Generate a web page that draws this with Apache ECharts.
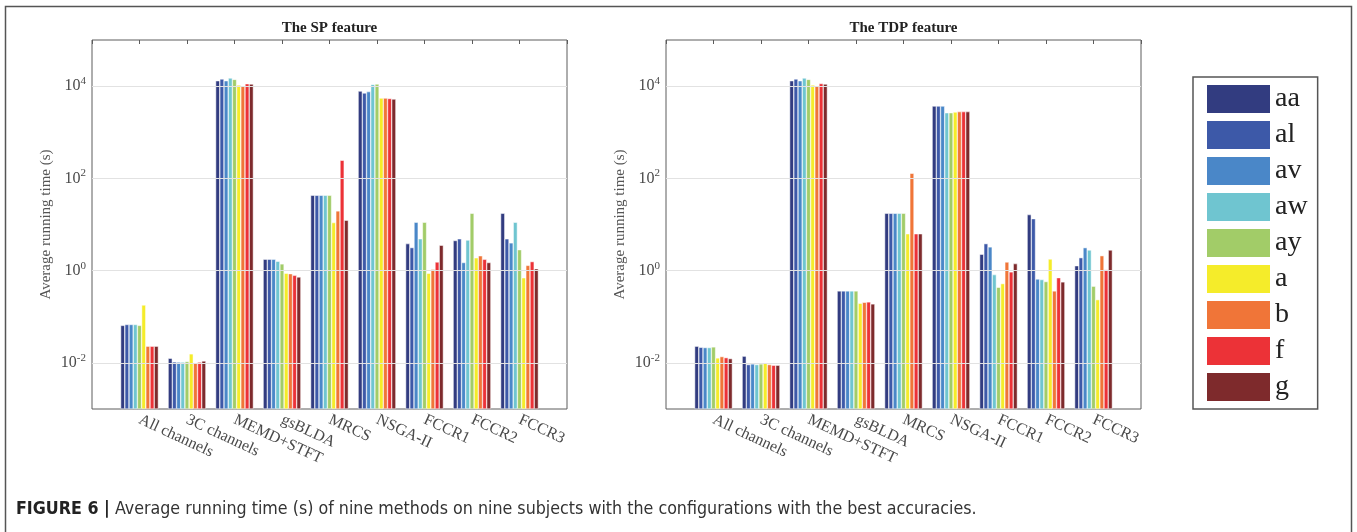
<!DOCTYPE html>
<html>
<head>
<meta charset="utf-8">
<script src="https://cdn.jsdelivr.net/npm/echarts@6/dist/echarts.min.js"></script>
<style>
  html, body { margin: 0; padding: 0; background: #fff; }
  #chart { width: 1357px; height: 532px; }
</style>
</head>
<body>
<div id="chart"></div>
<script>
// Methods compared on the x axis (blank slots pad the axis to 0..10)
const methods = ['All channels', '3C channels', 'MEMD+STFT', 'gsBLDA', 'MRCS', 'NSGA-II', 'FCCR1', 'FCCR2', 'FCCR3'];
const subjects = ['aa', 'al', 'av', 'aw', 'ay', 'a', 'b', 'f', 'g'];
const subjectColors = ['#323c80', '#3d59a8', '#4a87c8', '#6fc5d0', '#a2cc68', '#f5ec2a', '#f07538', '#ec3237', '#7e2a2c'];

// Average running time (s), SP feature, one array per subject (method order as above)
const spAa = [0.065, 0.0126, 13100, 1.77, 43, 7800, 3.85, 4.5, 17.5];
const spAl = [0.068, 0.0105, 14300, 1.77, 43, 7100, 3.16, 4.9, 4.9];
const spAv = [0.068, 0.0104, 13100, 1.77, 43, 7600, 11.2, 1.5, 4.0];
const spAw = [0.068, 0.0104, 15000, 1.6, 43, 10900, 4.9, 4.6, 11.2];
const spAy = [0.065, 0.0107, 14000, 1.4, 43, 11100, 11.2, 17.5, 2.85];
const spA  = [0.18, 0.0157, 10600, 0.88, 11, 5500, 0.88, 1.9, 0.7];
const spB  = [0.023, 0.0100, 10000, 0.86, 19.7, 5500, 1.07, 2.1, 1.3];
const spF  = [0.023, 0.0104, 11300, 0.79, 247, 5400, 1.54, 1.76, 1.57];
const spG  = [0.023, 0.011, 11100, 0.73, 12.4, 5250, 3.55, 1.5, 1.1];

// Average running time (s), TDP feature
const tdpAa = [0.023, 0.014, 13100, 0.363, 17.5, 3700, 2.27, 16.4, 1.28];
const tdpAl = [0.0218, 0.0092, 14300, 0.363, 17.5, 3700, 3.85, 13.4, 1.91];
const tdpAv = [0.0215, 0.0095, 13100, 0.363, 17.5, 3700, 3.27, 0.66, 3.15];
const tdpAw = [0.0215, 0.0092, 15000, 0.363, 17.5, 2650, 0.82, 0.64, 2.8];
const tdpAy = [0.0222, 0.0095, 14000, 0.363, 17.5, 2650, 0.436, 0.58, 0.46];
const tdpA  = [0.0128, 0.0099, 10600, 0.196, 6.3, 2750, 0.524, 1.79, 0.235];
const tdpB  = [0.0137, 0.0092, 10000, 0.206, 129, 2800, 1.54, 0.363, 2.11];
const tdpF  = [0.013, 0.0089, 11400, 0.21, 6.3, 2800, 0.94, 0.705, 1.05];
const tdpG  = [0.0124, 0.0089, 11100, 0.19, 6.3, 2800, 1.42, 0.57, 2.8];

// Y axis: labelled decades and horizontal guide lines
const yMin = 0.001, yMax = 100000;
const gridValues = [0.01, 1, 100, 10000];

const spSeries = [spAa, spAl, spAv, spAw, spAy, spA, spB, spF, spG];
const tdpSeries = [tdpAa, tdpAl, tdpAv, tdpAw, tdpAy, tdpA, tdpB, tdpF, tdpG];
const xCats = [''].concat(methods, ['']);

const SERIF = '"Liberation Serif", "Times New Roman", serif';
const NARROW = '"Liberation Sans Narrow", "DejaVu Sans Condensed", sans-serif';
const panels = [
  { title: 'The SP feature', left: 92, data: spSeries },
  { title: 'The TDP feature', left: 666, data: tdpSeries }
];
const plotTop = 40, plotW = 475, plotH = 369;

const chart = echarts.init(document.getElementById('chart'), null, { renderer: 'canvas' });

const grid = [], xAxis = [], yAxis = [], series = [], graphic = [];

panels.forEach((p, gi) => {
  grid.push({ left: p.left, top: plotTop, width: plotW, height: plotH, show: true,
              borderColor: '#5c5c5c', borderWidth: 1, backgroundColor: 'transparent' });
  // bottom category axis with method labels
  xAxis.push({
    gridIndex: gi, type: 'category', data: xCats, boundaryGap: false,
    axisLine: { show: false }, axisTick: { show: false }, splitLine: { show: false },
    axisLabel: { interval: 0, rotate: -25, margin: 10, fontFamily: SERIF, fontSize: 16, color: '#4a4a4a' }
  });
  // top axis carrying the small inward ticks
  xAxis.push({
    gridIndex: gi, type: 'category', data: xCats, boundaryGap: false, position: 'top',
    axisLine: { show: false }, axisLabel: { show: false }, splitLine: { show: false },
    axisTick: { show: true, inside: true, length: 4, interval: 0, lineStyle: { color: '#5c5c5c' } }
  });
  yAxis.push({
    gridIndex: gi, type: 'log', logBase: 10, min: yMin, max: yMax, startValue: yMin,
    axisLine: { show: false }, axisTick: { show: false }, splitLine: { show: false },
    name: 'Average running time (s)', nameLocation: 'middle', nameGap: 38,
    nameTextStyle: { fontFamily: SERIF, fontSize: 15, color: '#555' },
    axisLabel: {
      margin: 6,
      formatter: function (v) {
        const e = Math.round(Math.log10(v));
        if (e % 2 !== 0) return '';
        return '{b|10}{s|' + e + '}';
      },
      rich: {
        b: { fontFamily: SERIF, fontSize: 16, color: '#4a4a4a' },
        s: { fontFamily: SERIF, fontSize: 11, color: '#4a4a4a', padding: [0, 0, 10, 0] }
      }
    }
  });
  // horizontal guide lines at the labelled decades
  series.push({
    type: 'line', name: 'grid' + gi, xAxisIndex: gi * 2, yAxisIndex: gi, data: [],
    silent: true, z: 1, animation: false,
    markLine: {
      silent: true, symbol: 'none', animation: false, label: { show: false },
      lineStyle: { color: '#e2e2e2', width: 1, type: 'solid' },
      data: gridValues.map(v => ({ yAxis: v }))
    }
  });
  p.data.forEach((vals, si) => {
    series.push({
      type: 'bar', name: subjects[si], xAxisIndex: gi * 2, yAxisIndex: gi,
      data: ['-'].concat(vals, ['-']),
      barWidth: 4.2, barGap: '0%', z: 3, animation: false,
      itemStyle: { color: subjectColors[si], borderColor: '#ffffff', borderWidth: 0.5 }
    });
  });
  graphic.push({
    type: 'text', x: p.left + plotW / 2, y: 28, silent: true,
    style: { text: p.title, textAlign: 'center', textVerticalAlign: 'middle',
             font: 'bold 15px ' + SERIF, fill: '#222' }
  });
});

// outer frame and caption
graphic.push({
  type: 'rect', silent: true, shape: { x: 5.5, y: 6.5, width: 1346, height: 600 },
  style: { fill: 'none', stroke: '#555', lineWidth: 1.5 }
});
graphic.push({
  type: 'text', x: 16, y: 509, silent: true,
  style: {
    text: '{b|FIGURE 6 |} Average running time (s) of nine methods on nine subjects with the configurations with the best accuracies.',
    textVerticalAlign: 'middle',
    font: '17.7px ' + NARROW, fill: '#333',
    rich: { b: { font: 'bold 17.7px ' + NARROW, fill: '#222' } }
  }
});

chart.setOption({
  animation: false,
  color: subjectColors,
  grid, xAxis, yAxis, series, graphic,
  legend: {
    data: subjects, orient: 'vertical', left: 1193, top: 77,
    itemWidth: 63, itemHeight: 28, itemGap: 8,
    padding: [8, 10, 8, 14], borderColor: '#555', borderWidth: 1.5,
    icon: 'rect', selectedMode: false,
    itemStyle: { borderWidth: 0 },
    textStyle: { fontFamily: SERIF, fontSize: 28, color: '#222' }
  }
});
</script>
</body>
</html>
